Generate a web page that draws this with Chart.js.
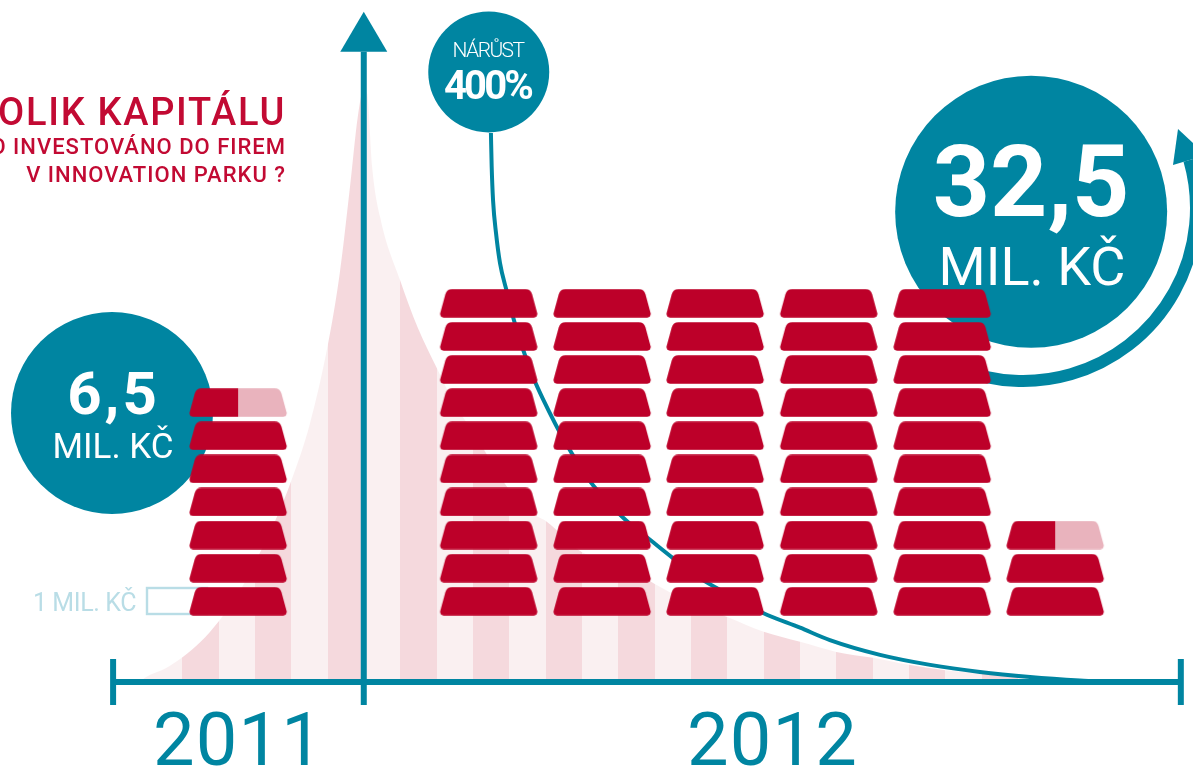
<!DOCTYPE html>
<html lang="cs">
<head>
<meta charset="utf-8">
<title>Kolik kapitálu</title>
<script src="https://cdn.jsdelivr.net/npm/chart.js@4"></script>
<style>
    html, body { margin: 0; padding: 0; background: #fff; overflow: hidden; }
    canvas { display: block; }
</style>
</head>
<body>
<canvas id="chart" width="1193" height="767"></canvas>
<script>
// Define data
const ENVELOPE_X = [0.33, 0.5, 1, 1.5, 2, 2.5, 3, 3.5, 4, 4.5, 5, 5.5, 5.83, 6.11, 6.33, 6.48, 6.58, 6.72, 6.94, 7.49, 7.98, 8.5, 9, 9.5, 10, 10.5, 11, 11.5, 12.5, 13.5, 14.5, 15.5, 16.5, 17.5, 18.5, 19.5, 20.5, 21.5, 22.5, 23.5, 24.5, 25.66];
const ENVELOPE_Y = [0, 0.85, 2.2, 4.2, 6.8, 10.3, 14.6, 20.3, 26.6, 34.2, 43.6, 57.1, 69.3, 83.9, 96, 100.3, 99.8, 87.3, 78.8, 68.1, 60, 53.2, 47, 42.4, 37.3, 32.5, 29, 27.3, 22, 20.2, 16.6, 13.4, 11, 8.5, 6.8, 5.1, 4.1, 2.9, 2, 1.5, 0.85, 0];
const GROWTH_X = [9.99, 10.01, 10.05, 10.13, 10.24, 10.43, 10.62, 10.87, 11.15, 11.42, 12.03, 12.72, 13.27, 13.76, 14.37, 15, 15.74, 16.57, 17.48, 18.5, 19.32, 20.7, 22.08, 23.45, 24.83, 26.2, 27.03];
const GROWTH_Y = [93.05, 87.5, 81.5, 76.1, 71, 66.1, 61.4, 56.4, 51.7, 48, 40.7, 34, 30.1, 27.1, 24.1, 21, 17.6, 14.7, 11.7, 9.2, 7.1, 4.6, 2.9, 1.7, 0.85, 0.25, 0];
const INGOT_STACKS = [6.5, 10, 10, 10, 10, 10, 2.5];
const YEAR_LABELS = ['2011', '2012'];
const AMOUNT_LABELS = ['6,5', '32,5'];
const UNIT_LABEL = 'MIL. KČ';
const GROWTH_LABELS = ['NÁRŮST', '400%'];
const KEY_LABEL = '1 MIL. KČ';
const TITLE_LINES = ['KOLIK KAPITÁLU', 'BYLO INVESTOVÁNO DO FIREM', 'V INNOVATION PARKU ?'];

// Define layout and colours
const TEAL = '#0085a1';
const RED = '#bd0029';
const RED_PALE = '#e9b3bd';
const TITLE_RED = '#c20a33';
const STRIPE_LIGHT = '#faf0f1';
const STRIPE_DARK = '#f5d9dd';
const KEY_COLOR = '#b9dde6';
const FONT = 'Roboto, sans-serif';

const STACK_CENTERS = [3.03, 9.93, 13.05, 16.16, 19.29, 22.41, 25.52];
const AXIS_START = -0.41;
const AXIS_END = 28.98;
const YEAR_SPLIT = 6.49;
const TICK_LOW = -3.9;
const TICK_HIGH = 3.9;
const ARROW_BASE = 106.8;
const ARROW_TIP = 113.6;
const BUBBLES = [
    { x: -0.44, y: 45.6, r: 101 },
    { x: 24.86, y: 79.7, r: 136 },
    { x: 9.93, y: 103.4, r: 60.5 }
];

function pairs(xs, ys) {
    return xs.map((x, i) => ({ x: x, y: ys[i] }));
}

// Ingot sprite, used as the point style of the stack datasets
function makeIngot(rightColor) {
    const w = 100, h = 29;
    const c = document.createElement('canvas');
    c.width = w;
    c.height = h;
    const g = c.getContext('2d');
    g.beginPath();
    g.moveTo(w / 2, 0.3);
    g.arcTo(w - 8, 0.3, w - 0.3, h - 0.3, 7);
    g.arcTo(w - 0.3, h - 0.3, 0.3, h - 0.3, 3.5);
    g.arcTo(0.3, h - 0.3, 8, 0.3, 3.5);
    g.arcTo(8, 0.3, w / 2, 0.3, 7);
    g.closePath();
    g.clip();
    g.fillStyle = RED;
    g.fillRect(0, 0, w / 2, h);
    g.fillStyle = rightColor;
    g.fillRect(w / 2, 0, w / 2, h);
    return c;
}

const fullIngots = [];
const halfIngots = [];
INGOT_STACKS.forEach((value, i) => {
    for (let level = 1; level <= Math.floor(value); level++) {
        fullIngots.push({ x: STACK_CENTERS[i], y: level });
    }
    if (value % 1) {
        halfIngots.push({ x: STACK_CENTERS[i], y: Math.ceil(value) });
    }
});

// Hard stop gradient that cuts the area under the curve into stripes
function stripeFill(context) {
    const chart = context.chart;
    const scale = chart.scales.x;
    if (!scale) return STRIPE_LIGHT;
    const lo = scale.getPixelForValue(0.5);
    const hi = scale.getPixelForValue(25.5);
    if (!isFinite(lo) || !isFinite(hi)) return STRIPE_LIGHT;
    const gradient = chart.ctx.createLinearGradient(lo, 0, hi, 0);
    for (let i = 0; i < 25; i++) {
        const color = i % 2 ? STRIPE_DARK : STRIPE_LIGHT;
        gradient.addColorStop(i / 25, color);
        gradient.addColorStop((i + 1) / 25, color);
    }
    return gradient;
}

function axisLine(points) {
    return {
        type: 'line',
        data: points,
        borderColor: TEAL,
        borderWidth: 6,
        pointRadius: 0,
        tension: 0,
        order: 3
    };
}

function drawText(ctx, text, x, y, font, color, align, spacing) {
    ctx.font = font;
    ctx.fillStyle = color;
    ctx.textAlign = align || 'center';
    ctx.textBaseline = 'alphabetic';
    ctx.letterSpacing = spacing || '0px';
    ctx.fillText(text, x, y);
}

// Swoosh round the big bubble and the outline of the 1 mil. key
const backdropPlugin = {
    id: 'backdrop',
    beforeDatasetsDraw(chart) {
        const ctx = chart.ctx;
        const cx = 1023, cy = 208, r = 173;
        ctx.save();
        ctx.strokeStyle = TEAL;
        ctx.lineWidth = 12;
        ctx.beginPath();
        ctx.arc(cx, cy, r, -0.28, Math.PI * 0.62);
        ctx.stroke();
        ctx.fillStyle = TEAL;
        ctx.beginPath();
        ctx.moveTo(1178, 129);
        ctx.lineTo(1173, 165);
        ctx.lineTo(1206, 155);
        ctx.closePath();
        ctx.fill();
        ctx.strokeStyle = KEY_COLOR;
        ctx.lineWidth = 2.4;
        ctx.strokeRect(147, 588, 60, 26);
        ctx.restore();
    }
};

const labelsPlugin = {
    id: 'labels',
    afterDatasetsDraw(chart) {
        const ctx = chart.ctx;
        const x = chart.scales.x;
        const y = chart.scales.y;
        ctx.save();

        // Arrow head on the vertical axis
        const ax = x.getPixelForValue(YEAR_SPLIT);
        const ab = y.getPixelForValue(ARROW_BASE);
        const at = y.getPixelForValue(ARROW_TIP);
        ctx.fillStyle = TEAL;
        ctx.beginPath();
        ctx.moveTo(ax, at);
        ctx.lineTo(ax - 23.5, ab);
        ctx.lineTo(ax + 23.5, ab);
        ctx.closePath();
        ctx.fill();

        drawText(ctx, YEAR_LABELS[0], 238.5, 765, '400 74px ' + FONT, TEAL, 'center', '1.2px');
        drawText(ctx, YEAR_LABELS[1], 772.5, 765, '400 74px ' + FONT, TEAL, 'center', '1.2px');

        drawText(ctx, AMOUNT_LABELS[0], 113.5, 414, '700 60px ' + FONT, '#fff', 'center', '3px');
        drawText(ctx, UNIT_LABEL, 113, 458, '400 35px ' + FONT, '#fff');
        drawText(ctx, AMOUNT_LABELS[1], 1031, 216, '700 100px ' + FONT, '#fff');
        drawText(ctx, UNIT_LABEL, 1032, 285, '400 54px ' + FONT, '#fff');
        drawText(ctx, GROWTH_LABELS[0], 488, 57, '300 21px ' + FONT, '#fff', 'center', '-1.6px');
        drawText(ctx, GROWTH_LABELS[1], 487.5, 99, '700 40px ' + FONT, '#fff', 'center', '-2.8px');

        drawText(ctx, KEY_LABEL, 136, 611, '400 25px ' + FONT, KEY_COLOR, 'right', '-0.4px');

        drawText(ctx, TITLE_LINES[0], 286, 125, '500 38px ' + FONT, TITLE_RED, 'right', '1.7px');
        drawText(ctx, TITLE_LINES[1], 286, 154, '500 22px ' + FONT, TITLE_RED, 'right', '1px');
        drawText(ctx, TITLE_LINES[2], 286, 182, '500 22px ' + FONT, TITLE_RED, 'right', '1px');
        ctx.restore();
    }
};

const chart = new Chart(document.getElementById('chart').getContext('2d'), {
    type: 'scatter',
    data: {
        datasets: [
            {
                type: 'line',
                label: 'Kapitál',
                data: pairs(ENVELOPE_X, ENVELOPE_Y),
                borderWidth: 0,
                pointRadius: 0,
                cubicInterpolationMode: 'monotone',
                fill: 'origin',
                backgroundColor: stripeFill,
                order: 6
            },
            {
                type: 'line',
                label: 'Nárůst',
                data: pairs(GROWTH_X, GROWTH_Y),
                borderColor: TEAL,
                borderWidth: 4,
                pointRadius: 0,
                cubicInterpolationMode: 'monotone',
                order: 5
            },
            {
                type: 'bubble',
                label: 'Bubliny',
                data: BUBBLES,
                backgroundColor: TEAL,
                borderWidth: 0,
                order: 4
            },
            axisLine([{ x: AXIS_START, y: 0 }, { x: AXIS_END, y: 0 }]),
            axisLine([{ x: AXIS_START, y: TICK_LOW }, { x: AXIS_START, y: TICK_HIGH }]),
            axisLine([{ x: AXIS_END, y: TICK_LOW }, { x: AXIS_END, y: TICK_HIGH }]),
            axisLine([{ x: YEAR_SPLIT, y: TICK_LOW }, { x: YEAR_SPLIT, y: ARROW_BASE }]),
            {
                label: 'Ingoty',
                data: fullIngots,
                yAxisID: 'yIngot',
                pointStyle: makeIngot(RED),
                order: 1
            },
            {
                label: 'Půl ingotu',
                data: halfIngots,
                yAxisID: 'yIngot',
                pointStyle: makeIngot(RED_PALE),
                order: 1
            }
        ]
    },
    options: {
        responsive: false,
        animation: false,
        devicePixelRatio: 1,
        layout: { padding: 0, autoPadding: false },
        plugins: {
            legend: { display: false },
            tooltip: { enabled: false }
        },
        scales: {
            x: { type: 'linear', display: false, min: -3.523, max: 29.315 },
            y: { type: 'linear', display: false, min: -14.41, max: 115.59 },
            yIngot: { type: 'linear', display: false, min: -4.005, max: 19.163 }
        }
    },
    plugins: [backdropPlugin, labelsPlugin]
});
chart.update();
</script>
</body>
</html>
